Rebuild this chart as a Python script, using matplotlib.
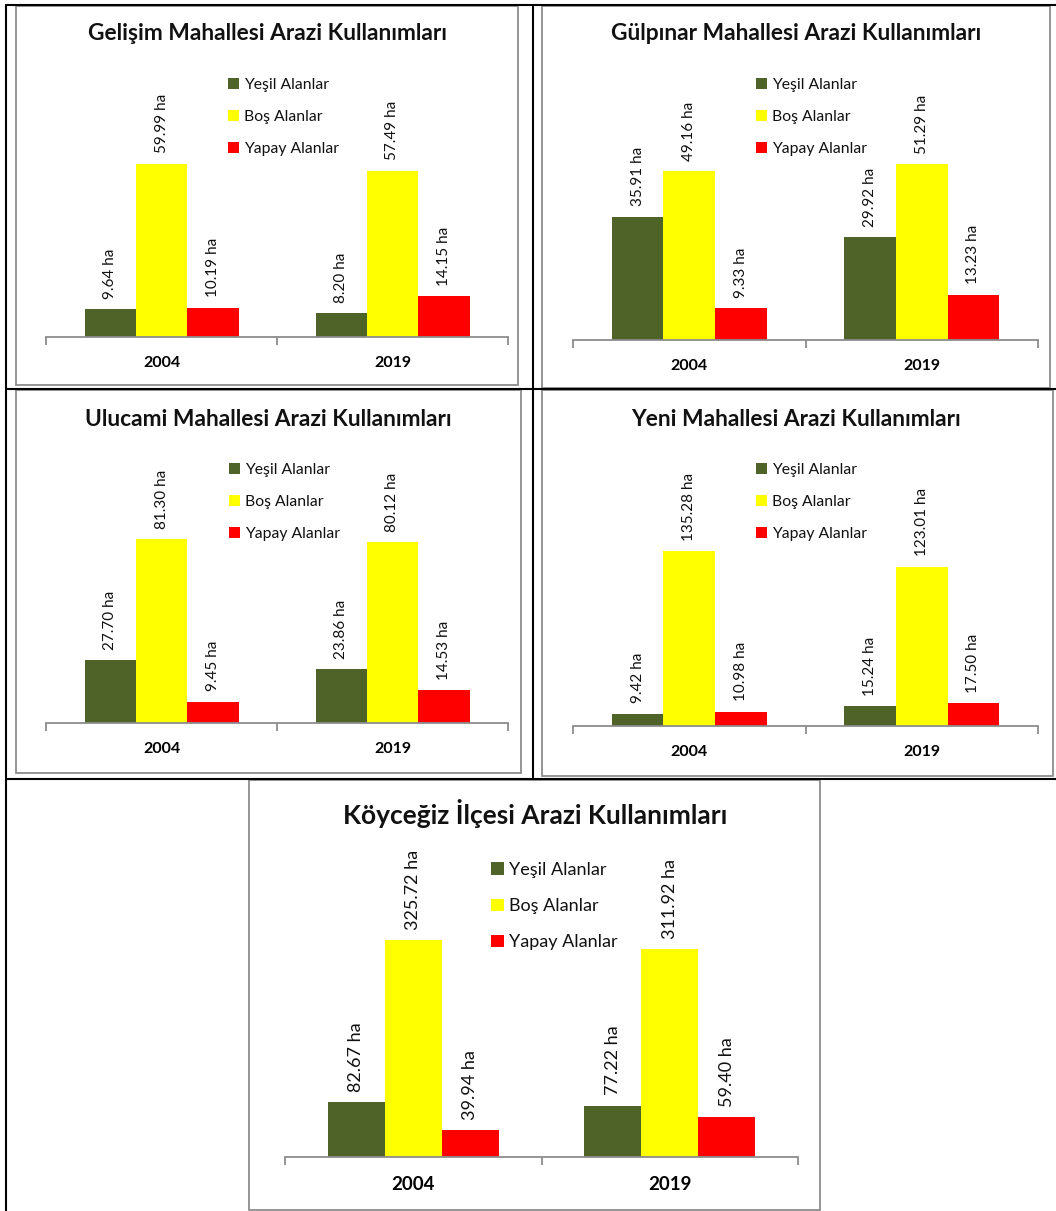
import matplotlib
matplotlib.use('Agg')
import matplotlib.pyplot as plt
from matplotlib.patches import Rectangle
import numpy as np

# --- data (hectares) ---
years = ['2004', '2019']
series_names = ['Yeşil Alanlar', 'Boş Alanlar', 'Yapay Alanlar']

gelisim_yesil = [9.64, 8.20]
gelisim_bos = [59.99, 57.49]
gelisim_yapay = [10.19, 14.15]

gulpinar_yesil = [35.91, 29.92]
gulpinar_bos = [49.16, 51.29]
gulpinar_yapay = [9.33, 13.23]

ulucami_yesil = [27.70, 23.86]
ulucami_bos = [81.30, 80.12]
ulucami_yapay = [9.45, 14.53]

yeni_yesil = [9.42, 15.24]
yeni_bos = [135.28, 123.01]
yeni_yapay = [10.98, 17.50]

koycegiz_yesil = [82.67, 77.22]
koycegiz_bos = [325.72, 311.92]
koycegiz_yapay = [39.94, 59.40]

titles = ['Gelişim Mahallesi Arazi Kullanımları',
          'Gülpınar Mahallesi Arazi Kullanımları',
          'Ulucami Mahallesi Arazi Kullanımları',
          'Yeni Mahallesi Arazi Kullanımları',
          'Köyceğiz İlçesi Arazi Kullanımları']

colors = ['#4F6228', '#FFFF00', '#FF0000']
GRAY = '#8c8c8c'

W, H = 1056, 1211
plt.rcParams['font.family'] = ['Lato', 'DejaVu Sans']
plt.rcParams['text.color'] = '#111111'

fig = plt.figure(figsize=(W / 100, H / 100), dpi=100)


def fx(x):
    return x / W


def fy(y):
    return 1 - y / H


# table grid and chart frames, drawn in pixel coordinates
bg = fig.add_axes([0, 0, 1, 1])
bg.set_xlim(0, W)
bg.set_ylim(H, 0)
bg.axis('off')

table_lines = [(5, 4.5, W, 4.5), (5.5, 4, 5.5, H), (533, 4, 533, 779),
               (5, 389, W, 389), (5, 779, W, 779)]
for x0, y0, x1, y1 in table_lines:
    bg.plot([x0, x1], [y0, y1], color='black', lw=1.5, solid_capstyle='butt')

frames = [(16, 5.5, 518, 385), (541.5, 5.5, 1050, 387.5),
          (16, 390, 521, 773), (541.5, 390, 1053, 775.5),
          (249, 779.5, 820, 1210)]
for x0, y0, x1, y1 in frames:
    bg.add_patch(Rectangle((x0, y0), x1 - x0, y1 - y0, fill=False,
                           edgecolor=GRAY, lw=1.3))


def draw_chart(title, yesil, bos, yapay, x0, x1, base, scale, ymax,
               title_xy, leg_xy, fs_title, fs_leg, fs_lab, leg_space, pad):
    top = base - ymax * scale
    ax = fig.add_axes([fx(x0), fy(base), (x1 - x0) / W, (base - top) / H])
    ax.patch.set_alpha(0)
    w = 1 / 4.5
    pos = np.arange(len(years))
    for k, (vals, name, col) in enumerate(zip([yesil, bos, yapay],
                                              series_names, colors)):
        bars = ax.bar(pos + (k - 1) * w, vals, w, color=col, label=name)
        for b, v in zip(bars, vals):
            ax.annotate(f'{v:.2f} ha', (b.get_x() + b.get_width() / 2, v),
                        xytext=(0, 7.5), textcoords='offset points',
                        rotation=90, ha='center', va='bottom',
                        fontsize=fs_lab)
    ax.set_xlim(-0.5, len(years) - 0.5)
    ax.set_ylim(0, ymax)
    ax.set_yticks([])
    ax.set_xticks(pos, years, fontweight='bold', fontsize=fs_lab + 0.5)
    ax.set_xticks(np.arange(len(years) + 1) - 0.5, minor=True)
    ax.tick_params(axis='x', which='major', length=0, pad=pad)
    ax.tick_params(axis='x', which='minor', length=6, width=1.3, color=GRAY)
    for s in ['top', 'left', 'right']:
        ax.spines[s].set_visible(False)
    ax.spines['bottom'].set_color(GRAY)
    ax.spines['bottom'].set_linewidth(1.3)

    fig.text(fx(title_xy[0]), fy(title_xy[1]), title, ha='center',
             va='center', fontweight='bold', fontsize=fs_title)
    ax.legend(loc='upper left', bbox_to_anchor=(fx(leg_xy[0]), fy(leg_xy[1])),
              bbox_transform=fig.transFigure, frameon=False, borderpad=0,
              handlelength=0.7, handleheight=0.7, handletextpad=0.3,
              labelspacing=leg_space, fontsize=fs_leg, borderaxespad=0)


draw_chart(titles[0], gelisim_yesil, gelisim_bos, gelisim_yapay,
           46, 508, 337, 2.89, 70, (267, 34), (228, 78), 16.4, 11.3, 11, 1.15, 14)
draw_chart(titles[1], gulpinar_yesil, gulpinar_bos, gulpinar_yapay,
           573, 1038, 340, 3.43, 60, (796, 33), (756, 78), 16.4, 11.3, 11, 1.15, 14)
draw_chart(titles[2], ulucami_yesil, ulucami_bos, ulucami_yapay,
           46, 508, 723, 2.26, 90, (268, 419), (229, 463), 16.4, 11.3, 11, 1.15, 14)
draw_chart(titles[3], yeni_yesil, yeni_bos, yeni_yapay,
           573, 1038, 726, 1.294, 160, (796, 419), (756, 463), 16.4, 11.3, 11, 1.15, 14)
draw_chart(titles[4], koycegiz_yesil, koycegiz_bos, koycegiz_yapay,
           285, 798, 1157, 0.666, 350, (535, 813), (491, 862), 19, 13, 13, 1.12, 14)

fig.savefig('out.png', dpi=100)
